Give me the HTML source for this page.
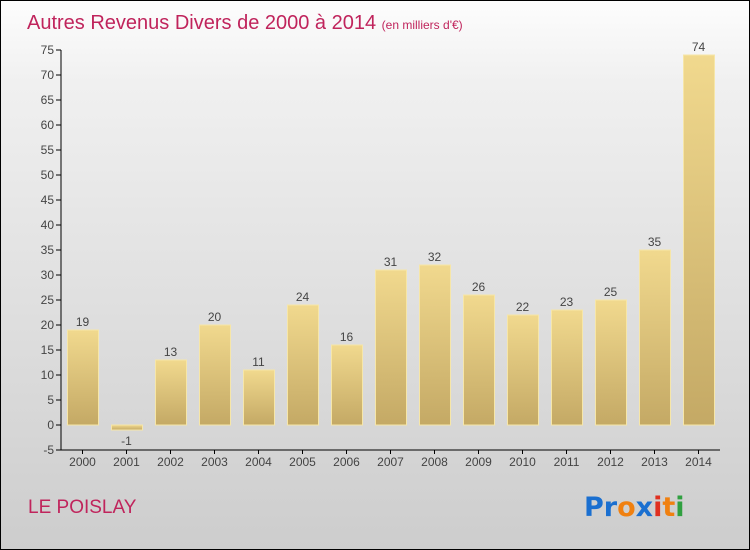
<!DOCTYPE html>
<html><head><meta charset="utf-8"><style>
body{margin:0}
#c{width:750px;height:550px;position:relative;overflow:hidden;box-sizing:border-box;border:1px solid #000;background:linear-gradient(#fdfdfd,#f0f0f0 15%,#cdcdcd);font-family:"Liberation Sans",sans-serif}
</style></head><body>
<div id="c">
<svg id="s" width="750" height="550" style="position:absolute;left:-1px;top:-1px">
<defs><linearGradient id="g" x1="0" y1="0" x2="0" y2="1"><stop offset="0" stop-color="#f1d98e"/><stop offset="1" stop-color="#c4a965"/></linearGradient></defs>
<text x="27" y="29" font-size="20" fill="#c0245c">Autres Revenus Divers de 2000 à 2014 <tspan font-size="12">(en milliers d'€)</tspan></text>
<text x="28" y="513" font-size="19" fill="#c0245c">LE POISLAY</text>
<g font-size="27" font-weight="bold" font-family="DejaVu Sans, sans-serif">
<text x="584" y="516"><tspan fill="#1a6fd0">Pr</tspan><tspan fill="#f08010">o</tspan><tspan fill="#1a6fd0">x</tspan><tspan fill="#e03020">i</tspan><tspan fill="#f08010">t</tspan><tspan fill="#30a040">i</tspan></text></g>
</svg>
</div>
<script>
const years=["2000","2001","2002","2003","2004","2005","2006","2007","2008","2009","2010","2011","2012","2013","2014"];
const values=[19,-1,13,20,11,24,16,31,32,26,22,23,25,35,74];
const yTicks=[-5,0,5,10,15,20,25,30,35,40,45,50,55,60,65,70,75];
const s=document.getElementById('s');const NS='http://www.w3.org/2000/svg';
const y=v=>425-v*5;const x=i=>82.5+i*44;
function el(t,a,p){const e=document.createElementNS(NS,t);for(const k in a)e.setAttribute(k,a[k]);(p||s).appendChild(e);return e;}
const ax=el('g',{});


const yl=el('line',{x1:61,y1:y(75),x2:61,y2:y(-5),stroke:'#000'},ax);


const xl=el('line',{x1:61,y1:y(-5),x2:720,y2:y(-5),stroke:'#000'},ax);


yTicks.forEach(v=>{el('line',{x1:56,x2:61,y1:y(v),y2:y(v),stroke:'#000'},ax);
const t=el('text',{x:54,y:y(v)+4,'text-anchor':'end','font-size':12,fill:'#444'},ax);t.textContent=v;

});
years.forEach((yr,i)=>{const v=values[i];const top=Math.min(y(v),y(0)),h=Math.abs(y(v)-y(0));
const b=el('rect',{x:x(i)-15,y:top,width:31,height:Math.max(h,1),fill:'url(#g)',stroke:'#f6e6a8','stroke-width':1});


const l=el('text',{x:x(i),y:v>=0?y(v)-4:y(v)+15,'text-anchor':'middle','font-size':12,fill:'#444'});l.textContent=v;


el('line',{x1:x(i),x2:x(i),y1:y(-5),y2:y(-5)+4,stroke:'#000'},ax);
const t=el('text',{x:x(i),y:466,'text-anchor':'middle','font-size':12,fill:'#444'},ax);t.textContent=yr;

});
</script>
</body></html>
